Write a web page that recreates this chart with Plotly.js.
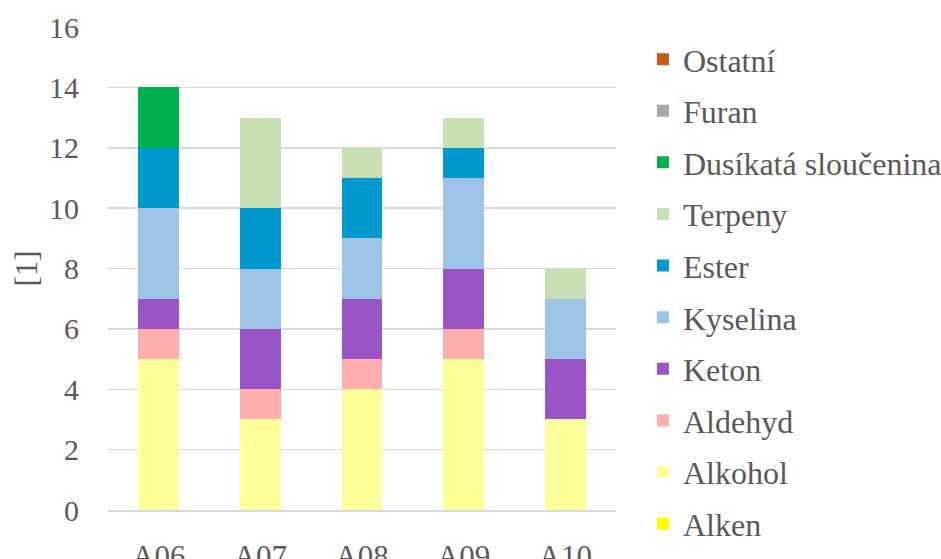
<!DOCTYPE html>
<html>
<head>
<meta charset="utf-8">
<script src="https://cdn.plot.ly/plotly-3.0.1.min.js"></script>
<style>
  html, body { margin: 0; padding: 0; background: #ffffff; }
  #chart { width: 941px; height: 559px; }
</style>
</head>
<body>
<div id="chart"></div>
<script>
// Samples on the x axis
const samples = ["A06", "A07", "A08", "A09", "A10"];

// Number of compounds per class in each sample (stacked bottom to top)
const alken     = [0, 0, 0, 0, 0];
const alkohol   = [5, 3, 4, 5, 3];
const aldehyd   = [1, 1, 1, 1, 0];
const keton     = [1, 2, 2, 2, 2];
const kyselina  = [3, 2, 2, 3, 2];
const ester     = [2, 2, 2, 1, 0];
const terpeny   = [0, 3, 1, 1, 1];
const dusikata  = [2, 0, 0, 0, 0];
const furan     = [0, 0, 0, 0, 0];
const ostatni   = [0, 0, 0, 0, 0];

const yTicks = [0, 2, 4, 6, 8, 10, 12, 14, 16];

const series = [
  { name: "Alken",               y: alken,    color: "#FFFF00" },
  { name: "Alkohol",             y: alkohol,  color: "#FFFF99" },
  { name: "Aldehyd",             y: aldehyd,  color: "#FFADAD" },
  { name: "Keton",               y: keton,    color: "#9954C8" },
  { name: "Kyselina",            y: kyselina, color: "#9DC3E6" },
  { name: "Ester",               y: ester,    color: "#0099CF" },
  { name: "Terpeny",             y: terpeny,  color: "#C6E0B4" },
  { name: "Dusíkatá sloučenina", y: dusikata, color: "#00B050" },
  { name: "Furan",               y: furan,    color: "#ABA7A7" },
  { name: "Ostatní",             y: ostatni,  color: "#C55A11" }
];

// Legend lists the top of the stack first
const traces = series.map((s, i) => ({
  type: "bar",
  name: s.name,
  x: samples,
  y: s.y,
  legendgroup: s.name,
  legendrank: 100 - i,
  marker: { color: s.color, line: { width: 0 } },
  hoverinfo: "x+y+name"
}));

const textColor = "#595959";
const mkFont = (size) => ({ family: "Liberation Serif", size: size, color: textColor });

const layout = {
  width: 941,
  height: 559,
  margin: { l: 108, r: 325, t: 27, b: 49, pad: 0, autoexpand: false },
  paper_bgcolor: "#ffffff",
  plot_bgcolor: "#ffffff",
  font: mkFont(31),
  barmode: "stack",
  bargap: 0.6,
  showlegend: true,
  legend: {
    x: 1.053, xanchor: "left",
    y: 0.99, yanchor: "top",
    traceorder: "grouped",
    tracegroupgap: 7,
    font: mkFont(32),
    itemwidth: 30,
    maxheight: 559,
    bgcolor: "rgba(0,0,0,0)"
  },
  xaxis: {
    type: "category",
    showgrid: false,
    showline: true,
    linecolor: "#D9D9D9",
    linewidth: 1.5,
    ticks: "outside",
    ticklen: 18,
    tickcolor: "rgba(0,0,0,0)",
    tickfont: mkFont(31),
    zeroline: false
  },
  yaxis: {
    range: [0, 16],
    tickvals: yTicks,
    ticktext: yTicks.map(String),
    showgrid: true,
    gridcolor: "#D9D9D9",
    gridwidth: 1.5,
    zeroline: false,
    showline: false,
    ticks: "",
    ticklabelstandoff: 28,
    tickfont: mkFont(30),
    title: { text: "[1]", font: mkFont(31), standoff: 2 }
  }
};

Plotly.newPlot("chart", traces, layout, { displayModeBar: false, staticPlot: true });
</script>
</body>
</html>
